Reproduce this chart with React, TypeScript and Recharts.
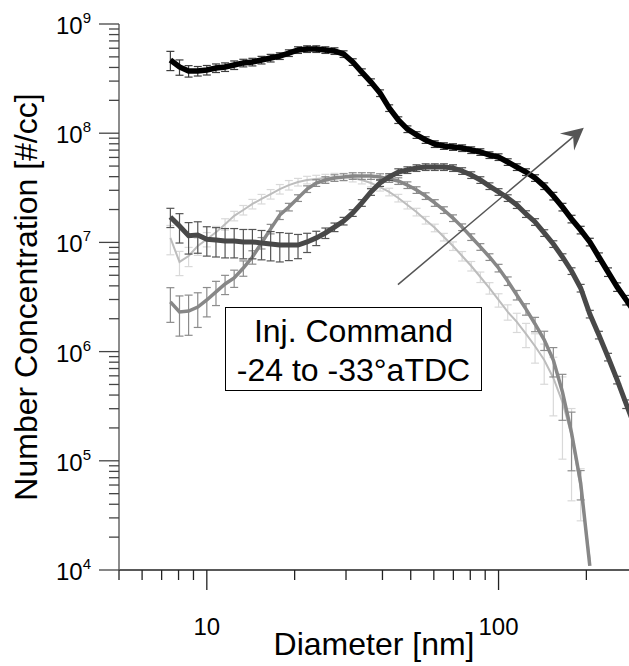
import { ComposedChart, Line, XAxis, YAxis, ErrorBar, ReferenceLine } from 'recharts'

const FONT = '"Liberation Sans", Arial, Helvetica, sans-serif'

// mobility diameters [nm], 32 channels per decade
const diameters = [
  7.5, 8.06, 8.66, 9.31, 10.0, 10.75, 11.55, 12.41, 13.34, 14.33,
  15.4, 16.55, 17.79, 19.11, 20.54, 22.07, 23.72, 25.49, 27.39, 29.43,
  31.63, 33.99, 36.53, 39.25, 42.18, 45.33, 48.71, 52.35, 56.25, 60.45,
  64.96, 69.81, 75.02, 80.61, 86.63, 93.09, 100.0, 107.5, 115.5, 124.2,
  133.4, 143.4, 154.1, 165.6, 177.9, 191.2, 205.5, 220.8, 237.3, 255.0,
  274.0, 294.5,
]

// number concentration [#/cc]
const blackVals = [
  4.68e8, 4.04e8, 3.71e8, 3.71e8, 3.79e8, 3.95e8, 4.04e8, 4.21e8, 4.4e8, 4.49e8,
  4.68e8, 4.88e8, 5.09e8, 5.42e8, 5.78e8, 5.9e8, 5.9e8, 5.78e8, 5.66e8, 5.31e8,
  4.49e8, 3.63e8, 2.94e8, 2.33e8, 1.7e8, 1.32e8, 1.09e8, 9.64e7, 8.67e7, 7.96e7,
  7.64e7, 7.48e7, 7.31e7, 7.01e7, 6.73e7, 6.31e7, 6.05e7, 5.45e7, 4.9e7, 4.41e7,
  3.89e7, 3.28e7, 2.66e7, 2.11e7, 1.64e7, 1.3e7, 1.01e7, 7.35e6, 5.36e6, 3.91e6,
  2.97e6, 2.26e6,
]
const darkVals = [
  1.71e7, 1.41e7, 1.15e7, 1.17e7, 1.07e7, 1.05e7, 1.03e7, 1.03e7, 1.01e7, 1.01e7,
  9.89e6, 9.67e6, 9.46e6, 9.46e6, 9.46e6, 1.01e7, 1.1e7, 1.22e7, 1.38e7, 1.57e7,
  1.86e7, 2.3e7, 2.9e7, 3.5e7, 3.97e7, 4.41e7, 4.6e7, 4.8e7, 4.9e7, 4.9e7,
  4.9e7, 4.8e7, 4.51e7, 4.14e7, 3.73e7, 3.28e7, 2.9e7, 2.55e7, 2.2e7, 1.82e7,
  1.54e7, 1.22e7, 9.67e6, 7.35e6, 5.47e6, 3.82e6, 2.21e6, 1.42e6, 8.93e5, 5.5e5,
  3.31e5, 2.0e5,
]
const mediumVals = [
  2.85e6, 2.31e6, 2.35e6, 2.56e6, 2.97e6, 3.52e6, 4.16e6, 4.72e6, 5.83e6, 7.35e6,
  9.89e6, 1.33e7, 1.78e7, 2.11e7, 2.55e7, 3.08e7, 3.5e7, 3.73e7, 3.89e7, 3.97e7,
  4.06e7, 4.06e7, 4.06e7, 3.97e7, 3.81e7, 3.65e7, 3.35e7, 3.02e7, 2.66e7, 2.3e7,
  1.98e7, 1.67e7, 1.38e7, 1.12e7, 9.1e6, 7.35e6, 5.83e6, 4.43e6, 3.3e6, 2.45e6,
  1.79e6, 1.28e6, 8.37e5, 4.27e5, 1.8e5, 6.26e4, 1.09e4,
]
const lightVals = [
  1.1e7, 6.62e6, 7.5e6, 9.27e6, 1.07e7, 1.24e7, 1.47e7, 1.75e7, 1.98e7, 2.25e7,
  2.5e7, 2.77e7, 3.08e7, 3.35e7, 3.57e7, 3.73e7, 3.81e7, 3.89e7, 3.97e7, 3.97e7,
  3.89e7, 3.73e7, 3.5e7, 3.21e7, 2.9e7, 2.55e7, 2.2e7, 1.9e7, 1.6e7, 1.36e7,
  1.12e7, 9.27e6, 7.5e6, 6.08e6, 4.82e6, 3.82e6, 2.97e6, 2.31e6, 1.87e6, 1.45e6,
  1.12e6, 8.37e5, 5.73e5, 3.45e5, 1.72e5, 5.64e4, 1.24e4,
]

// relative error (fraction of value)
const blackErr = [
  0.2, 0.16, 0.12, 0.1, 0.1, 0.09, 0.09, 0.09, 0.08, 0.08,
  0.08, 0.08, 0.07, 0.07, 0.07, 0.07, 0.07, 0.07, 0.07, 0.07,
  0.07, 0.07, 0.07, 0.07, 0.07, 0.07, 0.07, 0.07, 0.07, 0.07,
  0.07, 0.07, 0.07, 0.07, 0.07, 0.07, 0.07, 0.07, 0.07, 0.07,
  0.07, 0.07, 0.08, 0.08, 0.08, 0.08, 0.08, 0.09, 0.09, 0.09,
  0.1, 0.1,
]
const darkErr = [
  0.2, 0.3, 0.32, 0.32, 0.3, 0.3, 0.3, 0.3, 0.3, 0.3,
  0.3, 0.3, 0.3, 0.28, 0.25, 0.2, 0.15, 0.11, 0.09, 0.08,
  0.07, 0.07, 0.07, 0.07, 0.07, 0.07, 0.07, 0.07, 0.07, 0.07,
  0.07, 0.07, 0.07, 0.07, 0.07, 0.07, 0.07, 0.07, 0.07, 0.07,
  0.07, 0.07, 0.07, 0.07, 0.07, 0.08, 0.08, 0.08, 0.08, 0.08,
  0.09, 0.09,
]
const mediumErr = [
  0.35, 0.4, 0.4, 0.35, 0.3, 0.25, 0.2, 0.18, 0.16, 0.14,
  0.12, 0.1, 0.09, 0.08, 0.07, 0.07, 0.07, 0.07, 0.07, 0.07,
  0.07, 0.07, 0.07, 0.07, 0.07, 0.07, 0.07, 0.07, 0.07, 0.07,
  0.07, 0.07, 0.07, 0.07, 0.07, 0.07, 0.08, 0.09, 0.1, 0.12,
  0.15, 0.2, 0.3, 0.45, 0.55, 0.3, 0,
]
const lightErr = [
  0.3, 0.25, 0.2, 0.18, 0.15, 0.13, 0.12, 0.1, 0.1, 0.1,
  0.1, 0.1, 0.1, 0.1, 0.08, 0.08, 0.08, 0.08, 0.08, 0.08,
  0.08, 0.08, 0.08, 0.08, 0.08, 0.08, 0.08, 0.08, 0.08, 0.08,
  0.08, 0.09, 0.1, 0.1, 0.11, 0.12, 0.14, 0.16, 0.2, 0.25,
  0.3, 0.4, 0.55, 0.7, 0.75, 0.5, 0,
]

const xMajor = [10, 100]
const xMinor = [5, 6, 7, 8, 9, 20, 30, 40, 50, 60, 70, 80, 90, 200]
const yMajor = [1e4, 1e5, 1e6, 1e7, 1e8, 1e9]
const yMinor = [
  2e4, 3e4, 4e4, 5e4, 6e4, 7e4, 8e4, 9e4,
  2e5, 3e5, 4e5, 5e5, 6e5, 7e5, 8e5, 9e5,
  2e6, 3e6, 4e6, 5e6, 6e6, 7e6, 8e6, 9e6,
  2e7, 3e7, 4e7, 5e7, 6e7, 7e7, 8e7, 9e7,
  2e8, 3e8, 4e8, 5e8, 6e8, 7e8, 8e8, 9e8,
]

// annotation arrow (data coords)
const arrowFrom = { x: 45.2, y: 4.1e6 }
const arrowTo = { x: 196, y: 1.12e8 }

const toRows = (vals: number[], errs: number[]) =>
  vals.map((v, i) => ({ d: diameters[i], v, e: errs[i] ? [v * errs[i], v * errs[i]] : null }))

const series = [
  { key: 'light', rows: toRows(lightVals, lightErr), color: '#bdbdbd', width: 2, errColor: '#d9d9d9' },
  { key: 'medium', rows: toRows(mediumVals, mediumErr), color: '#878787', width: 3.5, errColor: '#8c8c8c' },
  { key: 'dark', rows: toRows(darkVals, darkErr), color: '#484848', width: 5, errColor: '#555555' },
  { key: 'black', rows: toRows(blackVals, blackErr), color: '#000000', width: 5.5, errColor: '#3c3c3c' },
]

function XTick({ x, y, payload }: any) {
  const major = xMajor.includes(payload.value)
  return (
    <g>
      <line x1={x} x2={x} y1={y} y2={y + (major ? 20 : 10)} stroke="#222" strokeWidth={1.3} />
      {major && (
        <text x={x} y={y + 65} textAnchor="middle" fontSize={24} fontFamily={FONT} fill="#000">
          {payload.value}
        </text>
      )}
    </g>
  )
}

function YTick({ x, y, payload }: any) {
  const major = yMajor.includes(payload.value)
  const exp = Math.round(Math.log10(payload.value))
  return (
    <g>
      <line x1={x - (major ? 20 : 10)} x2={x} y1={y} y2={y} stroke="#444" strokeWidth={1.3} />
      {major && (
        <text x={x - 28} y={y + 10} textAnchor="end" fontSize={24} fontFamily={FONT} fill="#000">
          10
          <tspan dy={-11} fontSize={15}>
            {exp}
          </tspan>
        </text>
      )}
    </g>
  )
}

function Arrow({ x1, y1, x2, y2 }: any) {
  const len = Math.hypot(x2 - x1, y2 - y1)
  const ux = (x2 - x1) / len
  const uy = (y2 - y1) / len
  const nx = -uy
  const ny = ux
  const head = [
    [x2, y2],
    [x2 - 22 * ux + 11 * nx, y2 - 22 * uy + 11 * ny],
    [x2 - 14 * ux, y2 - 14 * uy],
    [x2 - 22 * ux - 11 * nx, y2 - 22 * uy - 11 * ny],
  ]
  return (
    <g>
      <line x1={x1} y1={y1} x2={x2 - 14 * ux} y2={y2 - 14 * uy} stroke="#555" strokeWidth={1.5} />
      <polygon points={head.map((p) => p.join(',')).join(' ')} fill="#555" />
    </g>
  )
}

export default function App() {
  return (
    <div style={{ position: 'fixed', left: 0, top: 0, width: 629, height: 666, background: '#fff' }}>
      <ComposedChart width={629} height={666} margin={{ top: 24, right: 0, bottom: 0, left: 0 }}>
        <XAxis
          type="number"
          dataKey="d"
          scale="log"
          domain={[5, 280]}
          allowDataOverflow
          ticks={[...xMinor, ...xMajor].sort((a, b) => a - b)}
          interval={0}
          tick={(p: any) => <XTick {...p} />}
          tickSize={0}
          tickMargin={0}
          tickLine={false}
          axisLine={{ stroke: '#222', strokeWidth: 1.5 }}
          height={96}
          label={{
            value: 'Diameter [nm]',
            position: 'insideBottom',
            offset: 11,
            style: { fontSize: 32, fontFamily: FONT, fill: '#000' },
          }}
        />
        <YAxis
          type="number"
          scale="log"
          domain={[1e4, 1e9]}
          allowDataOverflow
          ticks={[...yMinor, ...yMajor].sort((a, b) => a - b)}
          interval={0}
          tick={(p: any) => <YTick {...p} />}
          tickSize={0}
          tickMargin={0}
          tickLine={false}
          axisLine={{ stroke: '#666', strokeWidth: 1.5 }}
          width={119}
          label={{
            value: 'Number Concentration [#/cc]',
            angle: -90,
            position: 'insideLeft',
            offset: 26,
            style: { fontSize: 32, fontFamily: FONT, fill: '#000', textAnchor: 'middle' },
          }}
        />
        {series.map((s) => (
          <Line
            key={s.key}
            data={s.rows}
            dataKey="v"
            type="linear"
            stroke={s.color}
            strokeWidth={s.width}
            dot={false}
            activeDot={false}
            isAnimationActive={false}
          >
            <ErrorBar dataKey="e" direction="y" width={4} stroke={s.errColor} strokeWidth={1.2} isAnimationActive={false} />
          </Line>
        ))}
        <ReferenceLine segment={[arrowFrom, arrowTo]} shape={(p: any) => <Arrow {...p} />} />
      </ComposedChart>
      <div
        style={{
          position: 'absolute',
          left: 225,
          top: 307,
          width: 257,
          height: 84,
          boxSizing: 'border-box',
          border: '1.5px solid #000',
          background: '#fff',
          fontFamily: FONT,
          fontSize: 32,
          lineHeight: '39px',
          textAlign: 'center',
          paddingTop: 4,
          color: '#000',
        }}
      >
        Inj. Command
        <br />
        -24 to -33°aTDC
      </div>
    </div>
  )
}
